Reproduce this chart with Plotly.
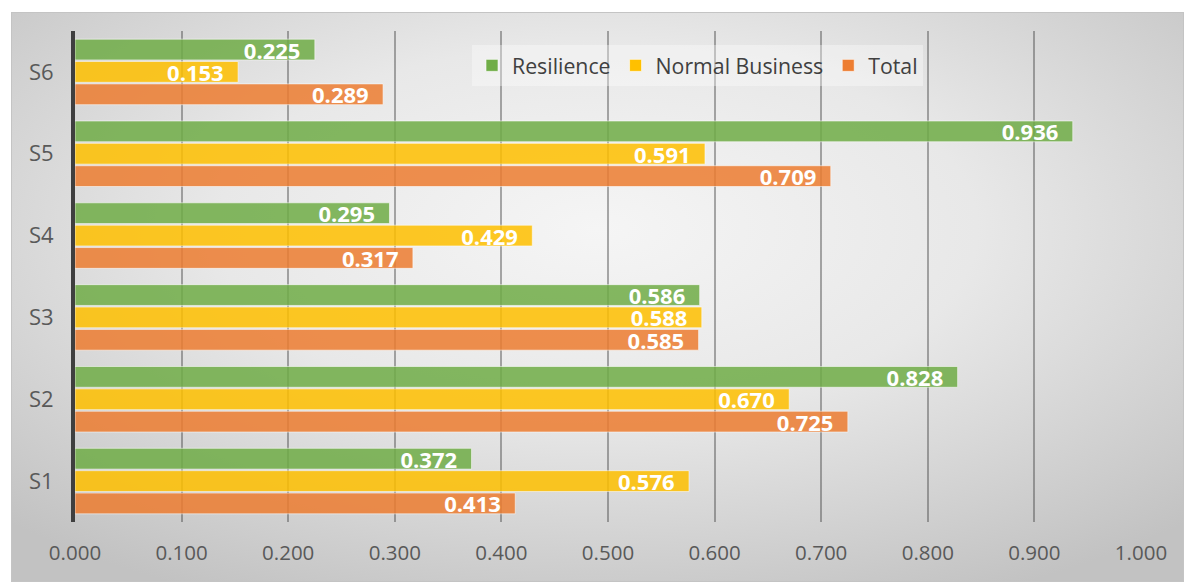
import base64
import plotly.graph_objects as go

# ---- data -------------------------------------------------------------
categories = ["S1", "S2", "S3", "S4", "S5", "S6"]
resilience = [0.372, 0.828, 0.586, 0.295, 0.936, 0.225]
normal_business = [0.576, 0.670, 0.588, 0.429, 0.591, 0.153]
total = [0.413, 0.725, 0.585, 0.317, 0.709, 0.289]
x_ticks = [0.0, 0.1, 0.2, 0.3, 0.4, 0.5, 0.6, 0.7, 0.8, 0.9, 1.0]

GREEN = "#70AD47"
YELLOW = "#FFC000"
ORANGE = "#ED7D31"
FONT = "Open Sans"

W, H = 1184, 583
ML, MR, MT, MB = 75, 43, 31, 61

fig = go.Figure()

# added bottom-to-top so Resilience sits on top within each group
for name, vals, col in [
    ("Total", total, ORANGE),
    ("Normal Business", normal_business, YELLOW),
    ("Resilience", resilience, GREEN),
]:
    fig.add_trace(go.Bar(
        y=categories,
        x=vals,
        name=name,
        orientation="h",
        marker=dict(color=col, opacity=0.85,
                    line=dict(color="rgba(255,255,255,0.6)", width=1)),
        texttemplate="%{x:.3f}&nbsp;&nbsp;",
        textposition="inside",
        insidetextanchor="end",
        textangle=0,
        constraintext="none",
        textfont=dict(family=FONT, size=22, color="white", weight="bold"),
        hoverinfo="skip",
    ))

# radial grey backdrop behind the whole chart
svg = f"""<svg xmlns='http://www.w3.org/2000/svg' width='1173' height='570' viewBox='0 0 1173 570' preserveAspectRatio='none'>
<defs><radialGradient id='g' cx='50%' cy='38%' r='72%' fx='50%' fy='38%'>
<stop offset='0' stop-color='#f5f5f5'/>
<stop offset='0.45' stop-color='#e8e8e8'/>
<stop offset='1' stop-color='#c2c2c2'/>
</radialGradient></defs>
<rect x='0' y='0' width='1173' height='570' fill='url(#g)'/>
<rect x='0.5' y='0.5' width='1172' height='569' fill='none' stroke='#c4c4c4' stroke-width='1'/>
</svg>"""
uri = "data:image/svg+xml;base64," + base64.b64encode(svg.encode()).decode()

pw = W - ML - MR
ph = H - MT - MB
bx0, by0, bx1, by1 = 11, 12, 1184, 582
fig.add_layout_image(dict(
    source=uri, xref="paper", yref="paper",
    x=(bx0 - ML) / pw, y=(H - MB - by0) / ph,
    sizex=(bx1 - bx0) / pw, sizey=(by1 - by0) / ph,
    xanchor="left", yanchor="top", sizing="stretch", layer="below",
))

fig.update_layout(
    width=W, height=H,
    margin=dict(l=ML, r=MR, t=MT, b=MB, pad=0),
    paper_bgcolor="white",
    plot_bgcolor="rgba(0,0,0,0)",
    barmode="group",
    bargap=0.18,
    bargroupgap=0.07,
    uniformtext=dict(minsize=22, mode="show"),
    font=dict(family=FONT, color="#595959"),
    showlegend=True,
    legend=dict(
        orientation="h",
        traceorder="reversed",
        x=(472 - ML) / pw, y=(H - MB - 45) / ph,
        xanchor="left", yanchor="top",
        bgcolor="rgba(255,255,255,0.35)",
        font=dict(family=FONT, size=21.3, color="#404040"),
    ),
    xaxis=dict(
        range=[0, 1],
        tickvals=x_ticks,
        tickformat=".3f",
        showgrid=True,
        gridcolor="rgba(70,70,70,0.45)",
        gridwidth=1.5,
        zeroline=False,
        showline=False,
        ticks="",
        tickfont=dict(family=FONT, size=20.5, color="#595959"),
        ticklabelstandoff=16,
        fixedrange=True,
    ),
    yaxis=dict(
        showgrid=False,
        zeroline=False,
        showline=True,
        linecolor="#3f3f3f",
        linewidth=4,
        ticks="",
        tickfont=dict(family=FONT, size=22, color="#595959"),
        ticklabelstandoff=13,
        fixedrange=True,
    ),
)

fig.write_html("out.html")
